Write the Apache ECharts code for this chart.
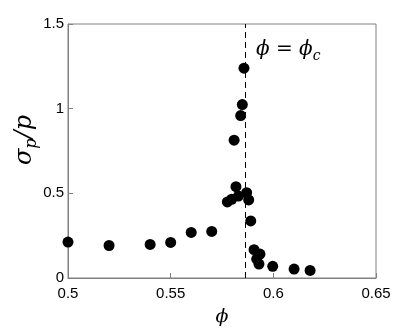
<!DOCTYPE html>
<html>
<head>
<meta charset="utf-8">
<script src="https://cdn.jsdelivr.net/npm/echarts@6/dist/echarts.min.js"></script>
<style>
  html, body { margin: 0; padding: 0; background: #fff; }
  #chart { width: 415px; height: 332px; }
</style>
</head>
<body>
<div id="chart"></div>
<script>
const phi = [0.500, 0.520, 0.540, 0.550, 0.560, 0.570, 0.5776, 0.5797, 0.5809, 0.5818,
  0.5830, 0.5841, 0.5849, 0.5857, 0.5870, 0.5880, 0.5890, 0.5906, 0.5919, 0.5935,
  0.5930, 0.5997, 0.6101, 0.6179]
const sigmaRatio = [0.212, 0.192, 0.198, 0.210, 0.269, 0.275, 0.449, 0.465, 0.814, 0.539,
  0.484, 0.959, 1.024, 1.239, 0.504, 0.461, 0.337, 0.167, 0.112, 0.141,
  0.082, 0.069, 0.053, 0.045]
const phiC = 0.5865

function scatterPlot() {
  const points = phi.map((x, i) => [x, sigmaRatio[i]])
  const axisGray = '#808080'
  const tickFont = { color: '#000', fontSize: 15, fontFamily: 'Liberation Sans' }
  const serif = { fontFamily: 'DejaVu Serif', fontStyle: 'italic', fill: '#000' }

  const option = {
    animation: false,
    grid: { left: 68, top: 24, width: 308, height: 255, containLabel: false, show: true, borderColor: axisGray, borderWidth: 1 },
    xAxis: {
      type: 'value',
      min: 0.5,
      max: 0.65,
      interval: 0.05,
      splitLine: { show: false },
      axisLine: { lineStyle: { color: axisGray } },
      axisTick: { inside: true, length: 5, lineStyle: { color: axisGray } },
      axisLabel: Object.assign({ margin: 8, formatter: v => String(+v.toFixed(2)) }, tickFont),
      name: 'ϕ',
      nameLocation: 'middle',
      nameGap: 30,
      nameTextStyle: { fontFamily: 'DejaVu Serif', fontStyle: 'italic', fontSize: 19, color: '#000' },
    },
    yAxis: {
      type: 'value',
      min: 0,
      max: 1.5,
      interval: 0.5,
      splitLine: { show: false },
      axisLine: { lineStyle: { color: axisGray } },
      axisTick: { inside: true, length: 5, lineStyle: { color: axisGray } },
      axisLabel: Object.assign({ margin: 4 }, tickFont),
    },
    graphic: [
      {
        // y axis title, placed like the original (a bit above the axis middle)
        type: 'text',
        x: 25,
        y: 140,
        rotation: Math.PI / 2,
        style: {
          text: '{a|σ}{s|p}{a|/p}',
          align: 'center',
          verticalAlign: 'middle',
          rich: {
            a: Object.assign({ fontSize: 24, lineHeight: 30 }, serif),
            s: Object.assign({ fontSize: 16, lineHeight: 30, verticalAlign: 'bottom', padding: [12, 0, 0, 0] }, serif),
          },
        },
      },
      {
        type: 'text',
        left: 256,
        top: 40,
        style: {
          text: '{a|ϕ = ϕ}{s|c}',
          rich: {
            a: Object.assign({ fontSize: 20, lineHeight: 26 }, serif),
            s: Object.assign({ fontSize: 14, lineHeight: 26, verticalAlign: 'bottom', padding: [9, 0, 0, 0] }, serif),
          },
        },
      },
    ],
    series: [
      {
        type: 'scatter',
        data: points,
        symbolSize: 11,
        itemStyle: { color: '#000', opacity: 1 },
        markLine: {
          silent: true,
          symbol: 'none',
          precision: 4,
          label: { show: false },
          lineStyle: { color: '#000', type: [6, 4], width: 1 },
          data: [{ xAxis: phiC }],
        },
      },
    ],
  }

  var myChart = echarts.init(document.getElementById('chart'))
  myChart.setOption(option)
}

scatterPlot()
</script>
</body>
</html>
